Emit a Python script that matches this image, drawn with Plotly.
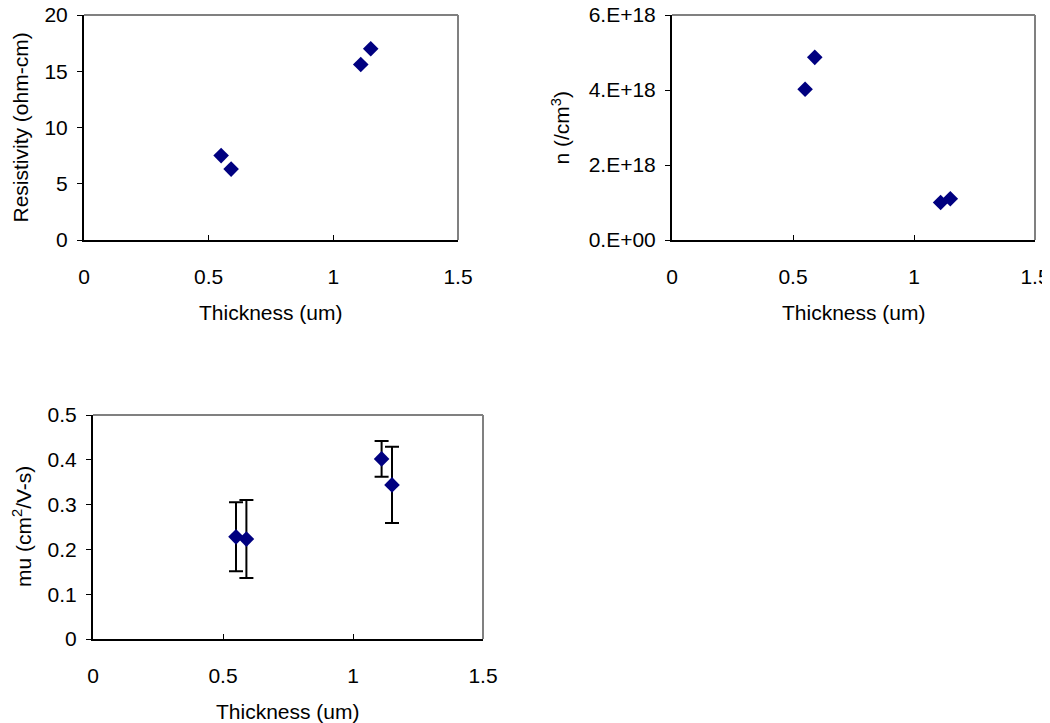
import plotly.graph_objects as go

# ---- data ----
thickness = [0.55, 0.59, 1.11, 1.15]
resistivity = [7.5, 6.3, 15.6, 17.0]
carrier_n = [4.02e18, 4.87e18, 1.0e18, 1.1e18]
mobility = [0.228, 0.223, 0.402, 0.344]
mobility_err = [0.077, 0.087, 0.040, 0.085]

x_tickvals = [0, 0.5, 1, 1.5]
x_ticktext = ["0", "0.5", "1", "1.5"]
y1_tickvals = [0, 5, 10, 15, 20]
y2_tickvals = [0, 2e18, 4e18, 6e18]
y2_ticktext = ["0.E+00", "2.E+18", "4.E+18", "6.E+18"]
y3_tickvals = [0, 0.1, 0.2, 0.3, 0.4, 0.5]
y3_ticktext = ["0", "0.1", "0.2", "0.3", "0.4", "0.5"]

x_title = "Thickness (um)"
y1_title = "Resistivity (ohm-cm)"
y2_title = "n (/cm<sup>3</sup>)"
y3_title = "mu (cm<sup>2</sup>/V-s)"

OFF = 8  # page body margin offset
W, H = 1050 - OFF, 723 - OFF
FONT = "Liberation Sans, Arial, sans-serif"
FS = 21
NAVY = "#000080"

def px_x(p):
    return (p - OFF) / W

def px_y(p):
    return 1 - (p - OFF) / H

# plot areas in window pixels (left, right, top, bottom)
boxes = {
    1: (84, 458, 15, 240),
    2: (672, 1035, 15, 240),
    3: (93, 483, 415, 639),
}

fig = go.Figure()

marker = dict(symbol="diamond", size=12, color=NAVY, line=dict(width=0))

fig.add_trace(go.Scatter(x=thickness, y=resistivity, mode="markers",
                         marker=marker, xaxis="x", yaxis="y", showlegend=False))
fig.add_trace(go.Scatter(x=thickness, y=carrier_n, mode="markers",
                         marker=marker, xaxis="x2", yaxis="y2", showlegend=False))
fig.add_trace(go.Scatter(x=thickness, y=mobility, mode="markers",
                         marker=marker, xaxis="x3", yaxis="y3", showlegend=False,
                         error_y=dict(type="data", array=mobility_err, visible=True,
                                      color="black", thickness=2, width=7)))

layout = dict(
    width=W, height=H,
    margin=dict(l=0, r=0, t=0, b=0),
    paper_bgcolor="white", plot_bgcolor="white",
    font=dict(family=FONT, size=FS, color="black"),
    showlegend=False,
)

yinfo = {
    1: dict(range=[0, 20], tickvals=y1_tickvals, ticktext=[str(v) for v in y1_tickvals]),
    2: dict(range=[0, 6e18], tickvals=y2_tickvals, ticktext=y2_ticktext),
    3: dict(range=[0, 0.5], tickvals=y3_tickvals, ticktext=y3_ticktext),
}

shapes = []
annotations = []
ytitles = {1: (y1_title, 20), 2: (y2_title, 560), 3: (y3_title, 22)}

for i in (1, 2, 3):
    l, r, t, b = boxes[i]
    sx = "" if i == 1 else str(i)
    layout["xaxis" + sx] = dict(
        domain=[px_x(l), px_x(r)], anchor="y" + sx, range=[0, 1.5],
        tickvals=x_tickvals, ticktext=x_ticktext,
        showgrid=False, zeroline=False, showline=True, linecolor="black", linewidth=2,
        ticks="inside", ticklen=5, tickwidth=1, tickcolor="black",
        ticklabelstandoff=17, automargin=False, fixedrange=True,
        ticklabeloverflow="allow",
        tickfont=dict(size=FS),
    )
    layout["yaxis" + sx] = dict(
        domain=[px_y(b), px_y(t)], anchor="x" + sx,
        showgrid=False, zeroline=False, showline=True, linecolor="black", linewidth=2,
        ticks="outside", ticklen=5, tickwidth=1, tickcolor="black",
        ticklabelstandoff=5, automargin=False, fixedrange=True,
        ticklabeloverflow="allow",
        tickfont=dict(size=FS),
        **yinfo[i],
    )
    # gray top and right frame
    xr = "x" + sx + " domain"
    yr = "y" + sx + " domain"
    shapes.append(dict(type="line", xref=xr, yref=yr, x0=0, x1=1, y0=1, y1=1,
                       line=dict(color="#808080", width=2), layer="below"))
    shapes.append(dict(type="line", xref=xr, yref=yr, x0=1, x1=1, y0=0, y1=1,
                       line=dict(color="#808080", width=2), layer="below"))
    # x title
    xt_y = b + 72
    annotations.append(dict(text=x_title, xref="paper", yref="paper",
                            x=px_x((l + r) / 2), y=px_y(xt_y), xanchor="center",
                            yanchor="middle", showarrow=False,
                            font=dict(family=FONT, size=FS, color="black")))
    # y title
    txt, cx = ytitles[i]
    annotations.append(dict(text=txt, xref="paper", yref="paper",
                            x=px_x(cx), y=px_y((t + b) / 2), xanchor="center",
                            yanchor="middle", showarrow=False, textangle=-90,
                            font=dict(family=FONT, size=FS, color="black")))

layout["shapes"] = shapes
layout["annotations"] = annotations
fig.update_layout(**layout)

fig.write_html("out.html")
